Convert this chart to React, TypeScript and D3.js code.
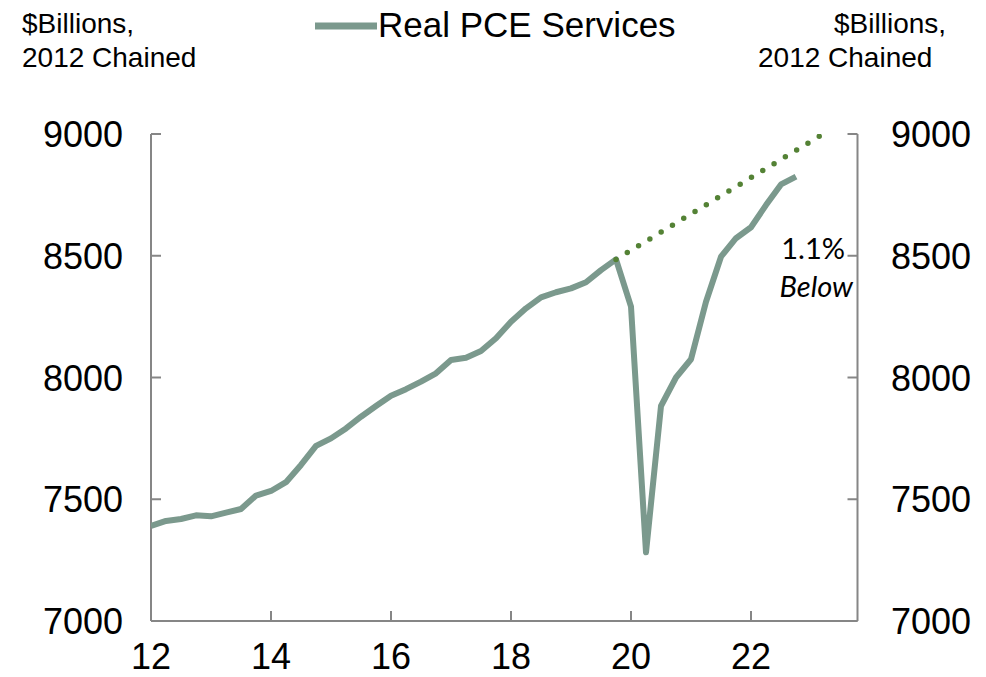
import React from "react";
import * as d3 from "d3";

const quarters: string[] = [
  "2012Q1","2012Q2","2012Q3","2012Q4","2013Q1","2013Q2","2013Q3","2013Q4",
  "2014Q1","2014Q2","2014Q3","2014Q4","2015Q1","2015Q2","2015Q3","2015Q4",
  "2016Q1","2016Q2","2016Q3","2016Q4","2017Q1","2017Q2","2017Q3","2017Q4",
  "2018Q1","2018Q2","2018Q3","2018Q4","2019Q1","2019Q2","2019Q3","2019Q4",
  "2020Q1","2020Q2","2020Q3","2020Q4","2021Q1","2021Q2","2021Q3","2021Q4",
  "2022Q1","2022Q2","2022Q3","2022Q4",
];
const pceServices: number[] = [
  7390, 7411, 7419, 7434, 7430, 7445, 7460, 7515,
  7534, 7570, 7641, 7719, 7750, 7791, 7839, 7883,
  7925, 7952, 7983, 8017, 8072, 8081, 8109, 8161,
  8229, 8284, 8329, 8350, 8366, 8391, 8441, 8485,
  8291, 7282, 7883, 8000, 8075, 8311, 8496, 8572,
  8617, 8708, 8793, 8825,
];
// pre-pandemic trend: start (2019Q4) and end (2023Q4) points
const trendIdx: number[] = [31, 47];
const trendVal: number[] = [8485, 9082];

const xTickYears: number[] = [2012, 2014, 2016, 2018, 2020, 2022];
const yTicks: number[] = [7000, 7500, 8000, 8500, 9000];

const LINE = "#7B998D";
const TREND = "#548235";
const AXIS = "#868686";

export default function App() {
  const left = 151, right = 857.5, top = 134, bottom = 621;
  const x = d3.scaleLinear().domain([0, 47]).range([left, left + 47 * 15]);
  const y = d3.scaleLinear().domain([7000, 9000]).range([bottom, top]);

  const line = d3.line<number>().x((_, i) => x(i)).y((d) => y(d));
  const trendLine = d3
    .line<number>()
    .x((d) => x(d))
    .y((_, i) => y(trendVal[i]));

  const font = "Arial, 'Liberation Sans', sans-serif";

  return (
    <div style={{ position: "absolute", left: 0, top: 0 }}>
      <svg width={986} height={677} style={{ display: "block" }}>
        <defs>
          <clipPath id="plot">
            <rect x={left} y={top} width={right - left} height={bottom - top} />
          </clipPath>
        </defs>
        {/* titles */}
        <g fontFamily={font} fill="#000" fontSize={28}>
          <text x={22} y={33}>$Billions,</text>
          <text x={22} y={67}>2012 Chained</text>
          <text x={834} y={33}>$Billions,</text>
          <text x={758} y={67}>2012 Chained</text>
        </g>
        {/* legend */}
        <line x1={315} x2={377} y1={26} y2={26} stroke={LINE} strokeWidth={7} />
        <text x={378} y={37} fontFamily={font} fontSize={35} fill="#000">
          Real PCE Services
        </text>

        {/* axes */}
        <g stroke={AXIS} strokeWidth={2} fill="none">
          <line x1={left} x2={left} y1={top} y2={bottom} />
          <line x1={right} x2={right} y1={top} y2={bottom} />
          <line x1={left} x2={right} y1={bottom} y2={bottom} />
          {yTicks.map((t) => (
            <g key={t}>
              <line x1={left} x2={left + 10} y1={y(t)} y2={y(t)} />
              <line x1={right - 10} x2={right} y1={y(t)} y2={y(t)} />
            </g>
          ))}
          {xTickYears.map((yr) => (
            <line
              key={yr}
              x1={x((yr - 2012) * 4)}
              x2={x((yr - 2012) * 4)}
              y1={bottom}
              y2={bottom - 10}
            />
          ))}
        </g>
        <g fontFamily={font} fontSize={36} fill="#000">
          {yTicks.map((t) => (
            <g key={t}>
              <text x={123} y={y(t) + 13} textAnchor="end">{t}</text>
              <text x={891} y={y(t) + 13} textAnchor="start">{t}</text>
            </g>
          ))}
          {xTickYears.map((yr) => (
            <text key={yr} x={x((yr - 2012) * 4)} y={669} textAnchor="middle">
              {String(yr).slice(2)}
            </text>
          ))}
        </g>

        {/* series */}
        <g clipPath="url(#plot)">
          <path d={line(pceServices) || ""} fill="none" stroke={LINE} strokeWidth={6} strokeLinejoin="round" />
          <path
            d={trendLine(trendIdx) || ""}
            fill="none"
            stroke={TREND}
            strokeWidth={5.5}
            strokeLinecap="round"
            strokeDasharray="0 13.2"
          />
        </g>

        {/* annotation */}
        <g fontFamily="Lato, 'Open Sans', sans-serif" fontSize={29} fill="#000" textAnchor="end">
          <text x={845} y={259}>1.1%</text>
          <text x={853} y={297} fontStyle="italic">Below</text>
        </g>
      </svg>
    </div>
  );
}
